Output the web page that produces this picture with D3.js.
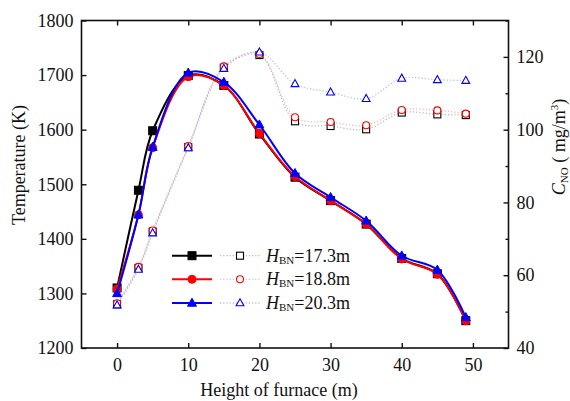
<!DOCTYPE html>
<html>
<head>
<meta charset="utf-8">
<script src="https://cdn.jsdelivr.net/npm/d3@7"></script>
<style>
  html, body { margin: 0; padding: 0; background: #fff; }
  svg text { font-family: "Liberation Serif", "Times New Roman", serif; fill: #111; }
</style>
</head>
<body>
<svg id="chart" width="570" height="401"></svg>
<script>
// Heights along the furnace (m)
const heights = [0, 3, 5, 10, 15, 20, 25, 30, 35, 40, 45, 49];

// Temperature (K) for the three burner heights
const temp173 = [1310, 1489, 1598, 1699, 1681, 1592, 1513, 1470, 1427, 1364, 1336, 1250];
const temp188 = [1308, 1444, 1567, 1697, 1681, 1593, 1514, 1470, 1427, 1363, 1335, 1250];
const temp203 = [1300, 1444, 1568, 1704, 1687, 1609, 1520, 1476, 1433, 1369, 1343, 1256];

// NO concentration (mg/m3)
const no173 = [52.0, 62.0, 72.0, 95.2, 117.0, 120.5, 102.3, 101.0, 100.1, 104.7, 104.2, 104.0];
const no188 = [52.3, 62.3, 72.3, 95.5, 117.4, 120.8, 103.4, 102.1, 101.2, 105.4, 105.3, 104.4];
const no203 = [51.8, 61.6, 71.6, 95.0, 116.8, 121.3, 112.6, 110.3, 108.5, 114.1, 113.7, 113.5];

const seriesNames = ["17.3m", "18.8m", "20.3m"];
const seriesColors = ["#000000", "#ff0000", "#0000ff"];
const dotColors = ["#b8b8b8", "#f6b4c2", "#b4bef2"];
const markerTypes = ["square", "circle", "triangle"];

const xTicks = [0, 10, 20, 30, 40, 50];
const tempTicks = [1200, 1300, 1400, 1500, 1600, 1700, 1800];
const noTicks = [40, 60, 80, 100, 120];
const noMinorTicks = [50, 70, 90, 110, 130];

const serif = "'Liberation Serif', 'Times New Roman', serif";
const fontSize = "18px";
const subSize = "11px";
const svg = d3.select("#chart");
const plotL = 81.5, plotR = 508.5, plotT = 20.5, plotB = 348;

const x = d3.scaleLinear().domain([-5, 55]).range([plotL, plotR]);
const yT = d3.scaleLinear().domain([1200, 1800]).range([plotB, plotT]);
const yN = d3.scaleLinear().domain([40, 130]).range([plotB, plotT]);

const tempSeries = [temp173, temp188, temp203];
const noSeries = [no173, no188, no203];

// Marker drawing helper
function marker(g, type, cx, cy, color, filled, size) {
  const fill = filled ? color : "#fff";
  const sw = filled ? 1 : 1.1;
  if (type === "square") {
    g.append("rect").attr("x", cx - size / 2).attr("y", cy - size / 2)
      .attr("width", size).attr("height", size)
      .attr("fill", fill).attr("stroke", color).attr("stroke-width", sw);
  } else if (type === "circle") {
    g.append("circle").attr("cx", cx).attr("cy", cy).attr("r", size / 2)
      .attr("fill", fill).attr("stroke", color).attr("stroke-width", sw);
  } else {
    const s = size * 1.12;
    const h = s * 0.9;
    g.append("path")
      .attr("d", `M${cx},${cy - h * 0.6}L${cx + s / 2},${cy + h * 0.4}L${cx - s / 2},${cy + h * 0.4}Z`)
      .attr("fill", fill).attr("stroke", color).attr("stroke-width", sw);
  }
}

// NO concentration: dotted curves with open markers
const noLine = d3.line().x((d, i) => x(heights[i])).y(d => yN(d)).curve(d3.curveCatmullRom.alpha(0.5));
noSeries.forEach((vals, k) => {
  svg.append("path").datum(vals).attr("d", noLine)
    .attr("fill", "none").attr("stroke", dotColors[k]).attr("stroke-width", 1.3)
    .attr("stroke-dasharray", "1.2,2");
});
noSeries.forEach((vals, k) => {
  const g = svg.append("g");
  vals.forEach((v, i) => marker(g, markerTypes[k], x(heights[i]), yN(v), seriesColors[k], false, 7));
});

// Temperature: solid curves with filled markers
const tLine = d3.line().x((d, i) => x(heights[i])).y(d => yT(d)).curve(d3.curveCatmullRom.alpha(0.5));
tempSeries.forEach((vals, k) => {
  svg.append("path").datum(vals).attr("d", tLine)
    .attr("fill", "none").attr("stroke", seriesColors[k]).attr("stroke-width", 2);
  const g = svg.append("g");
  vals.forEach((v, i) => marker(g, markerTypes[k], x(heights[i]), yT(v), seriesColors[k], true, 8));
});

// Frame
svg.append("rect").attr("x", plotL).attr("y", plotT).attr("width", plotR - plotL).attr("height", plotB - plotT)
  .attr("fill", "none").attr("stroke", "#111").attr("stroke-width", 1.6);

// Axes with inward ticks
const fmt = d3.format("d");
const gx = svg.append("g").attr("transform", `translate(0,${plotB})`)
  .call(d3.axisBottom(x).tickValues(xTicks).tickFormat(fmt).tickSizeInner(-5).tickSizeOuter(0).tickPadding(10));
const gxTop = svg.append("g").attr("transform", `translate(0,${plotT})`)
  .call(d3.axisTop(x).tickValues(xTicks).tickSizeInner(-5).tickSizeOuter(0).tickFormat(""));
const gyL = svg.append("g").attr("transform", `translate(${plotL},0)`)
  .call(d3.axisLeft(yT).tickValues(tempTicks).tickFormat(fmt).tickSizeInner(-5).tickSizeOuter(0).tickPadding(8));
const gyR = svg.append("g").attr("transform", `translate(${plotR},0)`)
  .call(d3.axisRight(yN).tickValues(noTicks).tickFormat(fmt).tickSizeInner(-5).tickSizeOuter(0).tickPadding(8));
const gyRm = svg.append("g").attr("transform", `translate(${plotR},0)`)
  .call(d3.axisRight(yN).tickValues(noMinorTicks).tickSizeInner(-3).tickSizeOuter(0).tickFormat(""));

[gx, gxTop, gyL, gyR, gyRm].forEach(g => {
  g.attr("font-family", serif);
  g.select(".domain").remove();
  g.selectAll(".tick line").attr("stroke", "#111").attr("stroke-width", 1.4);
  g.selectAll(".tick text").attr("font-size", fontSize).attr("font-family", serif).attr("fill", "#111");
});

// Axis titles
svg.append("text").attr("x", (plotL + plotR) / 2 - 16).attr("y", 396)
  .attr("text-anchor", "middle").attr("font-size", fontSize).attr("font-family", serif)
  .text("Height of furnace (m)");

svg.append("text").attr("transform", "translate(25,165) rotate(-90)")
  .attr("text-anchor", "middle").attr("font-size", fontSize).attr("font-family", serif)
  .text("Temperature (K)");

const rt = svg.append("text").attr("transform", "translate(565,147) rotate(-90)")
  .attr("text-anchor", "middle").attr("font-size", fontSize).attr("font-family", serif);
rt.append("tspan").attr("font-style", "italic").text("C");
rt.append("tspan").attr("font-size", subSize).attr("dy", 3).text("NO");
rt.append("tspan").attr("dy", -3).text(" ( mg/m");
rt.append("tspan").attr("font-size", subSize).attr("dy", -7).text("3");
rt.append("tspan").attr("dy", 7).text(")");

// Legend
const legendRows = [255.7, 279.3, 303];
seriesNames.forEach((name, k) => {
  const yy = legendRows[k];
  const g = svg.append("g");
  g.append("line").attr("x1", 172).attr("x2", 212).attr("y1", yy).attr("y2", yy)
    .attr("stroke", seriesColors[k]).attr("stroke-width", 2);
  marker(g, markerTypes[k], 192, yy, seriesColors[k], true, 8);
  g.append("line").attr("x1", 220).attr("x2", 260).attr("y1", yy).attr("y2", yy)
    .attr("stroke", dotColors[k]).attr("stroke-width", 1.3).attr("stroke-dasharray", "1.2,2");
  marker(g, markerTypes[k], 240, yy, seriesColors[k], false, 7);
  const t = g.append("text").attr("x", 266).attr("y", yy + 6).attr("font-size", fontSize)
    .attr("font-family", serif);
  t.append("tspan").attr("font-style", "italic").text("H");
  t.append("tspan").attr("font-size", subSize).attr("dy", 2).text("BN");
  t.append("tspan").attr("dy", -2).text("=" + name);
});
</script>
</body>
</html>
